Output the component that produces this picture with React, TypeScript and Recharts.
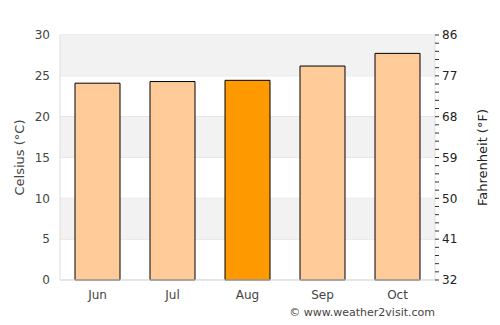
import React from 'react';
import { BarChart, Bar, XAxis, YAxis, CartesianGrid, ReferenceArea, Cell } from 'recharts';

const months = ['Jun', 'Jul', 'Aug', 'Sep', 'Oct'];
const celsius = [24.1, 24.3, 24.45, 26.2, 27.75];
const highlightMonth = 'Aug';
const celsiusTicks = [0, 5, 10, 15, 20, 25, 30];
const fahrenheitLabels = [32, 41, 50, 59, 68, 77, 86];
const shadedBands: [number, number][] = [[5, 10], [15, 20], [25, 30]];

const data = months.map((m, i) => ({ month: m, c: celsius[i] }));
const fMinorTicks = Array.from({ length: 31 }, (_, i) => +(32 + i * 1.8).toFixed(2));

const FONT = 'DejaVu Sans, sans-serif';
const TXT = '#444';

export default function App() {
  return (
    <div style={{ position: 'absolute', left: 0, top: 0, width: 500, height: 325, fontFamily: FONT }}>
      <BarChart width={500} height={325} data={data} margin={{ top: 35, right: 0, bottom: 15, left: 0 }} barCategoryGap="20%">
        {shadedBands.map(([a, b]) => (
          <ReferenceArea key={a} yAxisId="c" y1={a} y2={b} fill="#f2f2f2" fillOpacity={1} stroke="none" ifOverflow="visible" />
        ))}
        <CartesianGrid yAxisId="c" vertical={false} stroke="#dddddd" strokeWidth={1} />
        <XAxis
          dataKey="month"
          stroke="#dddddd"
          tickLine={false}
          height={30}
          tickMargin={4}
          tick={{ fill: TXT, fontSize: 12, fontFamily: FONT }}
        />
        <YAxis
          yAxisId="c"
          orientation="left"
          domain={[0, 30]}
          ticks={celsiusTicks}
          width={60}
          stroke="#dddddd"
          tickLine={false}
          tickMargin={4}
          tick={{ fill: TXT, fontSize: 12, fontFamily: FONT }}
          label={{ value: 'Celsius (°C)', angle: -90, position: 'center', dx: -11, fill: TXT, fontSize: 13, fontFamily: FONT }}
        />
        <YAxis
          yAxisId="f"
          orientation="right"
          type="number"
          domain={[32, 86]}
          allowDataOverflow
          ticks={fMinorTicks}
          interval={0}
          width={65}
          stroke="#dddddd"
          tickLine={{ stroke: '#333' }}
          tickSize={4}
          tickMargin={3}
          tickFormatter={(v: number) => (fahrenheitLabels.some((f) => Math.abs(f - v) < 0.01) ? String(Math.round(v)) : '')}
          tick={{ fill: '#222', fontSize: 12, fontFamily: FONT }}
          label={{ value: 'Fahrenheit (°F)', angle: -90, position: 'center', dx: 15, fill: '#222', fontSize: 13, fontFamily: FONT }}
        />
        <Bar yAxisId="c" dataKey="c" stroke="#000" strokeWidth={1} isAnimationActive={false}>
          {data.map((d) => (
            <Cell key={d.month} fill={d.month === highlightMonth ? '#ff9900' : '#ffcc99'} />
          ))}
        </Bar>
      </BarChart>
      <div style={{ position: 'absolute', right: 65, top: 306, fontSize: 11, color: TXT, fontFamily: FONT, whiteSpace: 'nowrap' }}>
        © www.weather2visit.com
      </div>
    </div>
  );
}
